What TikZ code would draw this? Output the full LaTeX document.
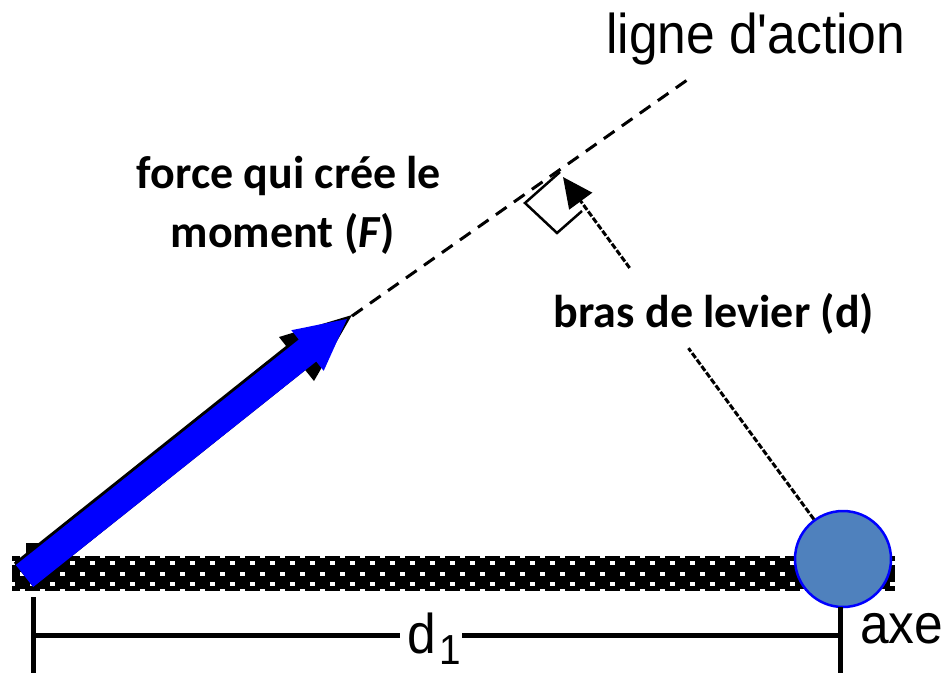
\documentclass[tikz,border=0pt]{standalone}
\usepackage{fontspec}
\setmainfont{Carlito}
\newfontfamily\pixfont[FakeStretch=0.92]{Liberation Sans}
\usetikzlibrary{arrows.meta,calc}
\definecolor{axisfill}{HTML}{4F81BD}
\tikzset{
  boldlabel/.style={font=\bfseries\fontsize{46}{59}\selectfont, inner sep=0pt},
  pixlabel/.style={font=\pixfont\fontsize{56}{60}\selectfont, inner sep=0pt},
  dimline/.style={line width=5pt},
  actionline/.style={line width=3pt, dash pattern=on 13pt off 9pt},
  armline/.style={line width=3pt, dash pattern=on 6pt off 2pt},
  markline/.style={line width=2.5pt},
}
\begin{document}
\begin{tikzpicture}[x=1pt,y=-1pt]
\useasboundingbox (0,0) rectangle (942,673);

% beam with checkered pattern
\begin{scope}
  \clip (12,556) rectangle (895,591);
  \fill[black] (12,556) rectangle (895,591);
  \foreach \k in {0,...,45}{
    \fill[white] ({10+20*\k},561) rectangle ++(5,4);
    \fill[white] ({20*\k},572) rectangle ++(5,4);
    \fill[white] ({10+20*\k},582) rectangle ++(5,4);
    \fill[white] ({20*\k},555) rectangle ++(5,3);
    \fill[white] ({20*\k},589) rectangle ++(5,3);
  }
\end{scope}

% black shadow arrow
\fill[black] (26,543) rectangle (45,557);
\fill[black] (13.9,562.7) -- (286,345.9) -- (279,337) -- (352,315) -- (314,381) -- (305.3,370.2) -- (33.2,587) -- cycle;

% blue force arrow
\coordinate (tip) at (347,319);
\fill[blue] (15.8,565) -- (298.8,339.5) -- (291.3,330.2) -- (tip) -- (323.7,370.8) -- (316.2,361.5) -- (33.2,587) -- cycle;

% line of action
\coordinate (lastart) at (352,316);
\coordinate (laend) at (690,78);
\draw[actionline] (lastart) -- (laend);

% axis
\node[circle, draw=blue, fill=axisfill, line width=2.5pt, minimum size=96pt, inner sep=0pt] (axis) at (843,559) {};
\coordinate (foot) at (563,177);

% lever arm
\draw[armline] (axis) -- ($(axis)!0.552!(foot)$);
\draw[armline, -{Triangle[length=30pt,width=28pt]}] ($(axis)!0.762!(foot)$) -- (foot);

% right-angle marker
\draw[markline] (560,172) -- (525,203) -- (557,233) -- (582,211);

% dimension
\coordinate (ltop) at (33,597);
\coordinate (lbot) at (33,673);
\coordinate (rtop) at (840,607);
\coordinate (rbot) at (840,673);
\draw[dimline] (ltop) -- (lbot);
\draw[dimline] (rtop) -- (rbot);
\draw[dimline] (33,635) -- (400,635);
\draw[dimline] (462,635) -- (840,635);

% labels
\node[boldlabel, anchor=base] (forcea) at (289,188) {force qui crée le};
\node[boldlabel, anchor=base] (forceb) at (283,247) {moment (\textit{F})};
\node[boldlabel, anchor=base] (bras) at (714,327) {bras de levier (d)};
\node[pixlabel, anchor=base west] (ligne) at (606,53) {ligne d'action};
\node[pixlabel, anchor=base west] (axe) at (860,643) {axe};
\node[pixlabel, anchor=base west] (dlab) at (407,653) {d};
\node[pixlabel, font=\pixfont\fontsize{42}{46}\selectfont, anchor=base west] (one) at (439,664) {1};
\end{tikzpicture}
\end{document}
